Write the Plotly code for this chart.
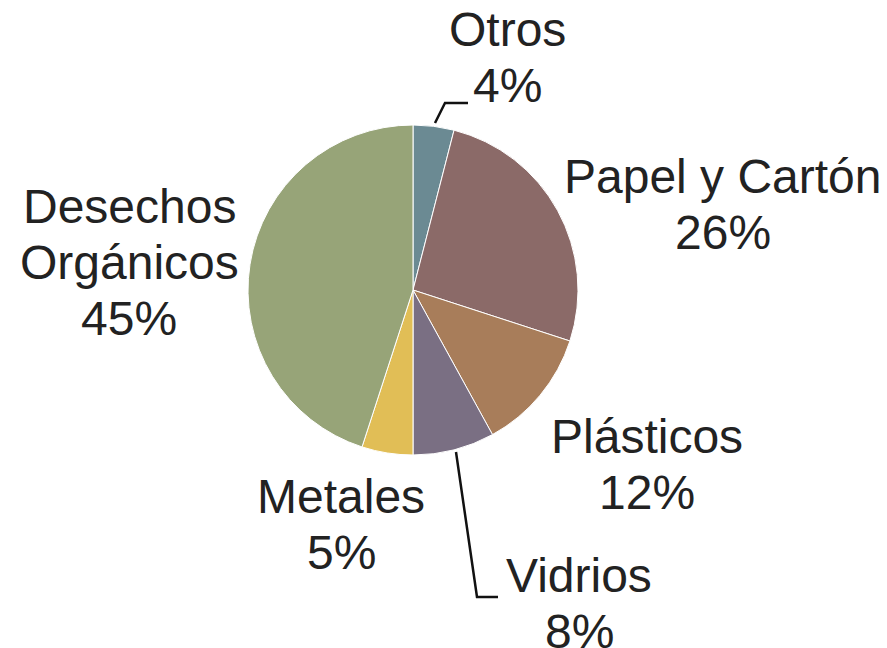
import plotly.graph_objects as go

OFF = 8  # page body margin in the browser
W, H = 887 - OFF, 648 - OFF  # visible figure area

categories = ["Otros", "Papel y Cartón", "Plásticos", "Vidrios", "Metales", "Desechos Orgánicos"]
values = [4, 26, 12, 8, 5, 45]
colors = ["#6b8a93", "#8b6a68", "#a87d5a", "#7a6f83", "#e1be56", "#97a478"]

# label lines (text lines per category) and layout positions in pixels
label_lines = {
    "Otros": ["Otros"],
    "Papel y Cartón": ["Papel y Cartón"],
    "Plásticos": ["Plásticos"],
    "Vidrios": ["Vidrios"],
    "Metales": ["Metales"],
    "Desechos Orgánicos": ["Desechos", "Orgánicos"],
}
label_pos = {  # center x, baseline of first line
    "Otros": (507, 46),
    "Papel y Cartón": (723, 193),
    "Plásticos": (647, 453),
    "Vidrios": (579, 592),
    "Metales": (341, 513),
    "Desechos Orgánicos": (129, 223),
}
line_gap = 56
FS = 48

cx, cy, r = 413, 290, 165

def px(x):
    return (x - OFF) / W

def py(y):
    return 1 - (y - OFF) / H

fig = go.Figure(go.Pie(
    labels=categories,
    values=values,
    sort=False,
    direction="clockwise",
    rotation=0,
    marker=dict(colors=colors, line=dict(color="white", width=1)),
    textinfo="none",
    hoverinfo="label+percent",
    showlegend=False,
    domain=dict(x=[px(cx - r), px(cx + r)], y=[py(cy + r), py(cy - r)]),
))

total = sum(values)
annotations = []
for cat, v in zip(categories, values):
    lines = label_lines[cat] + [f"{round(100 * v / total)}%"]
    x0, b0 = label_pos[cat]
    for i, t in enumerate(lines):
        base = b0 + i * line_gap
        annotations.append(dict(
            x=px(x0), y=py(base - 0.3465 * FS), xref="paper", yref="paper",
            text=t, showarrow=False, xanchor="center", yanchor="middle",
            borderpad=0,
            font=dict(family="Liberation Sans, Arial", size=FS, color="#222222"),
        ))

def path(pts):
    return "M " + " L ".join(f"{px(x)},{py(y)}" for x, y in pts)

shapes = [
    dict(type="path", xref="paper", yref="paper",
         path=path([(435, 123), (445, 103), (468, 103)]),
         line=dict(color="#111111", width=2.5)),
    dict(type="path", xref="paper", yref="paper",
         path=path([(456, 452), (477, 597), (498, 597)]),
         line=dict(color="#111111", width=2.5)),
]

fig.update_layout(
    width=W, height=H,
    margin=dict(l=0, r=0, t=0, b=0),
    paper_bgcolor="white", plot_bgcolor="white",
    annotations=annotations, shapes=shapes,
)

fig.write_html("out.html")
